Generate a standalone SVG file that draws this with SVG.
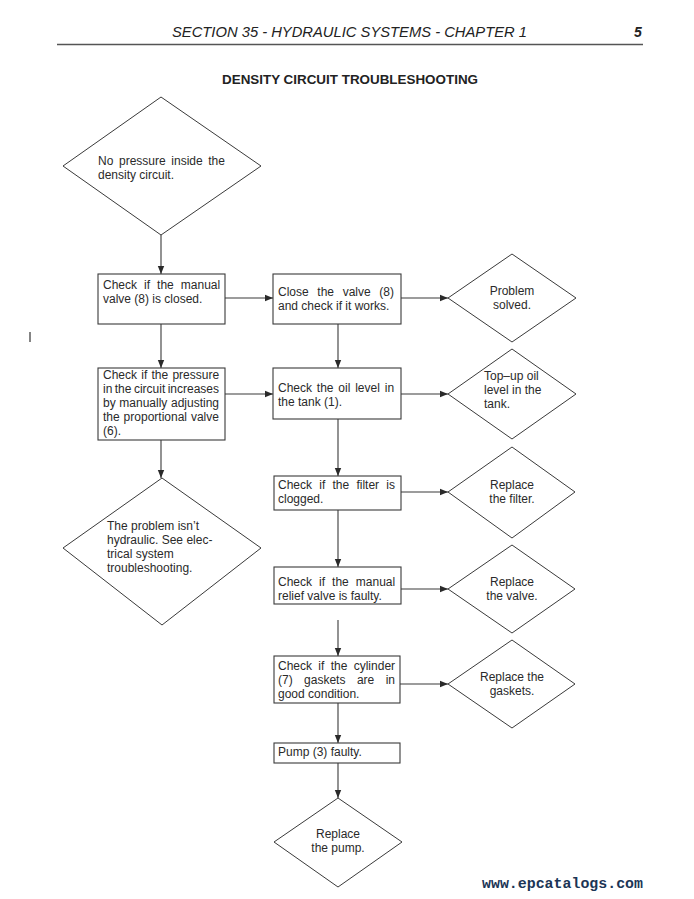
<svg xmlns="http://www.w3.org/2000/svg" width="694" height="899" viewBox="0 0 694 899">
<style>
.bg{fill:#fff}
.box{fill:#fff;stroke:#3a3a3a;stroke-width:1.1}
.dia{fill:#fff;stroke:#3a3a3a;stroke-width:1}
.t{font-family:"Liberation Sans",Arial,sans-serif;font-size:12px;fill:#2a2a2a}
.c{text-anchor:middle}
.con line{stroke:#3a3a3a;stroke-width:1.1}
.hdr{font-family:"Liberation Sans",Arial,sans-serif;font-style:italic;font-size:14px;fill:#222}
.ttl{font-family:"Liberation Sans",Arial,sans-serif;font-weight:bold;font-size:13px;fill:#222}
.wm{font-family:"Liberation Mono","DejaVu Sans Mono",monospace;font-weight:bold;font-size:14.5px;fill:#1b3556}
</style>
<defs>
<marker id="ah" viewBox="0 0 8 8" refX="8" refY="4" markerWidth="8" markerHeight="8" markerUnits="userSpaceOnUse" orient="auto">
<path d="M0,0.8 L8,4 L0,7.2 Z" fill="#2a2a2a"/>
</marker>
</defs>
<rect class="bg" x="0" y="0" width="694" height="899"/>

<g id="header">
<text class="hdr" x="172" y="37" textLength="355" lengthAdjust="spacingAndGlyphs">SECTION 35 - HYDRAULIC SYSTEMS - CHAPTER 1</text>
<text class="hdr" x="634" y="37" font-weight="bold">5</text>
<line x1="57" y1="44.5" x2="643" y2="44.5" stroke="#555" stroke-width="1.4"/>
<text class="ttl" x="222" y="84" textLength="256" lengthAdjust="spacingAndGlyphs">DENSITY CIRCUIT TROUBLESHOOTING</text>
</g>

<line x1="30" y1="332" x2="30" y2="342" stroke="#333" stroke-width="1.2"/>

<g class="con" id="connectors">
<line x1="161" y1="235" x2="161" y2="274" marker-end="url(#ah)"/>
<line x1="225" y1="298" x2="273" y2="298" marker-end="url(#ah)"/>
<line x1="401" y1="298" x2="448" y2="298" marker-end="url(#ah)"/>
<line x1="161" y1="324" x2="161" y2="368" marker-end="url(#ah)"/>
<line x1="338" y1="324" x2="338" y2="368" marker-end="url(#ah)"/>
<line x1="225" y1="394" x2="273" y2="394" marker-end="url(#ah)"/>
<line x1="401" y1="394" x2="448" y2="394" marker-end="url(#ah)"/>
<line x1="161" y1="440" x2="161" y2="478" marker-end="url(#ah)"/>
<line x1="338" y1="419" x2="338" y2="476" marker-end="url(#ah)"/>
<line x1="401" y1="492" x2="448" y2="492" marker-end="url(#ah)"/>
<line x1="338" y1="510" x2="338" y2="567" marker-end="url(#ah)"/>
<line x1="401" y1="589" x2="448" y2="589" marker-end="url(#ah)"/>
<line x1="338" y1="620" x2="338" y2="656" marker-end="url(#ah)"/>
<line x1="400" y1="684" x2="448" y2="684" marker-end="url(#ah)"/>
<line x1="338" y1="703" x2="338" y2="743" marker-end="url(#ah)"/>
<line x1="338" y1="763" x2="338" y2="798" marker-end="url(#ah)"/>
</g>

<g id="start">
<polygon class="dia" points="161,97 261,166 161,235 63,166"/>
<text class="t" x="98" y="165" word-spacing="2.3">No pressure inside the</text>
<text class="t" x="98" y="179">density circuit.</text>
</g>

<g id="check-manual-valve">
<rect class="box" x="98" y="274" width="127" height="50"/>
<text class="t" x="103" y="289" word-spacing="3.7">Check if the manual</text>
<text class="t" x="103" y="303">valve (8) is closed.</text>
</g>

<g id="close-valve">
<rect class="box" x="273" y="274" width="128" height="50"/>
<text class="t" x="278" y="296" word-spacing="5.3">Close the valve (8)</text>
<text class="t" x="278" y="310">and check if it works.</text>
</g>

<g id="problem-solved">
<polygon class="dia" points="512,254 576,298 512,342 448,298"/>
<text class="t c" x="512" y="295">Problem</text>
<text class="t c" x="512" y="309">solved.</text>
</g>

<g id="check-pressure">
<rect class="box" x="98" y="368" width="127" height="72"/>
<text class="t" x="103" y="379" word-spacing="0.9">Check if the pressure</text>
<text class="t" x="103" y="393" word-spacing="-0.9">in the circuit increases</text>
<text class="t" x="103" y="407" word-spacing="0.3">by manually adjusting</text>
<text class="t" x="103" y="421" word-spacing="0.6">the proportional valve</text>
<text class="t" x="103" y="435">(6).</text>
</g>

<g id="check-oil">
<rect class="box" x="273" y="368" width="128" height="51"/>
<text class="t" x="278" y="392" word-spacing="1.5">Check the oil level in</text>
<text class="t" x="278" y="406">the tank (1).</text>
</g>

<g id="top-up">
<polygon class="dia" points="512,349 576,394 512,439 448,394"/>
<text class="t" x="484" y="380">Top–up oil</text>
<text class="t" x="484" y="394">level in the</text>
<text class="t" x="484" y="408">tank.</text>
</g>

<g id="not-hydraulic">
<polygon class="dia" points="162,478 261,548 162,625 63,548"/>
<text class="t" x="107" y="530">The problem isn’t</text>
<text class="t" x="107" y="544">hydraulic. See elec-</text>
<text class="t" x="107" y="558">trical system</text>
<text class="t" x="107" y="572">troubleshooting.</text>
</g>

<g id="check-filter">
<rect class="box" x="274" y="476" width="127" height="34"/>
<text class="t" x="278" y="489" word-spacing="3.9">Check if the filter is</text>
<text class="t" x="278" y="503">clogged.</text>
</g>

<g id="replace-filter">
<polygon class="dia" points="512,447 575,492 512,538 448,492"/>
<text class="t c" x="512" y="489">Replace</text>
<text class="t c" x="512" y="503">the filter.</text>
</g>

<g id="check-relief">
<rect class="box" x="274" y="567" width="127" height="37"/>
<text class="t" x="278" y="586" word-spacing="3.7">Check if the manual</text>
<text class="t" x="278" y="600">relief valve is faulty.</text>
</g>

<g id="replace-valve">
<polygon class="dia" points="512,545 575,589 512,633 448,589"/>
<text class="t c" x="512" y="586">Replace</text>
<text class="t c" x="512" y="600">the valve.</text>
</g>

<g id="check-cylinder">
<rect class="box" x="274" y="656" width="126" height="47"/>
<text class="t" x="278" y="670" word-spacing="3">Check if the cylinder</text>
<text class="t" x="278" y="684" word-spacing="8.1">(7) gaskets are in</text>
<text class="t" x="278" y="698">good condition.</text>
</g>

<g id="replace-gaskets">
<polygon class="dia" points="512,640 575,684 512,728 448,684"/>
<text class="t c" x="512" y="681">Replace the</text>
<text class="t c" x="512" y="695">gaskets.</text>
</g>

<g id="pump-faulty">
<rect class="box" x="274" y="743" width="126" height="20"/>
<text class="t" x="278" y="756">Pump (3) faulty.</text>
</g>

<g id="replace-pump">
<polygon class="dia" points="338,798 402,842 338,887 274,842"/>
<text class="t c" x="338" y="838">Replace</text>
<text class="t c" x="338" y="852">the pump.</text>
</g>

<text class="wm" x="482" y="888" textLength="161" lengthAdjust="spacingAndGlyphs">www.epcatalogs.com</text>
</svg>
